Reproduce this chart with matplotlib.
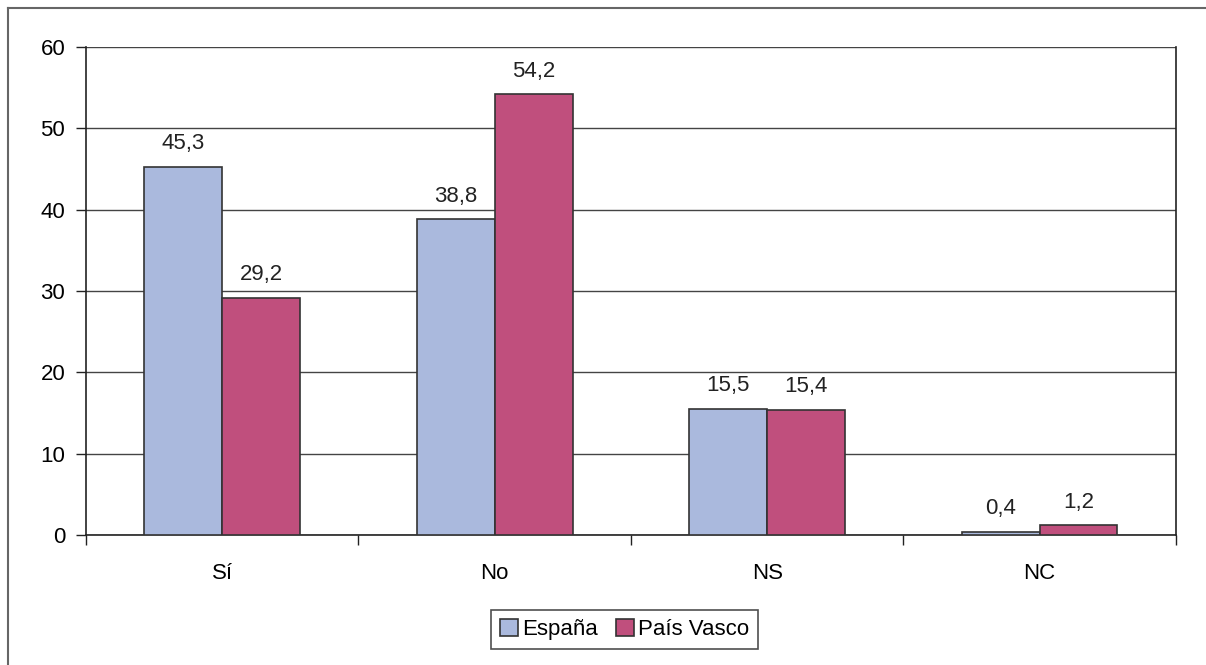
import numpy as np
import matplotlib.pyplot as plt
from matplotlib.lines import Line2D

plt.rcParams['font.family'] = ['Liberation Sans', 'DejaVu Sans']

# Data
categories = ['Sí', 'No', 'NS', 'NC']
espana = [45.3, 38.8, 15.5, 0.4]
pais_vasco = [29.2, 54.2, 15.4, 1.2]
series_names = ['España', 'País Vasco']
colors = ['#AAB9DD', '#C04F7D']

fig = plt.figure(figsize=(12.06, 6.65), dpi=100)
ax = fig.add_axes([0.0713, 0.1955, 0.9037, 0.7338])

x = np.arange(len(categories))
w = 0.2857
b1 = ax.bar(x - w / 2, espana, w, color=colors[0], edgecolor='#333333',
            linewidth=1.2, label=series_names[0], zorder=3)
b2 = ax.bar(x + w / 2, pais_vasco, w, color=colors[1], edgecolor='#333333',
            linewidth=1.2, label=series_names[1], zorder=3)

# value labels with comma decimals
for bars, vals in [(b1, espana), (b2, pais_vasco)]:
    for rect, v in zip(bars, vals):
        ax.annotate(f'{v:.1f}'.replace('.', ','),
                    (rect.get_x() + rect.get_width() / 2, v),
                    xytext=(0, 9), textcoords='offset points',
                    ha='center', va='bottom', fontsize=16, color='#222222')

ax.set_xlim(-0.5, 3.5)
ax.set_ylim(0, 60)
ax.set_yticks(range(0, 61, 10))
ax.yaxis.grid(True, color='#444444', linewidth=1.0, zorder=0)
ax.set_axisbelow(True)

ax.set_xticks(x)
ax.set_xticklabels(categories)
ax.set_xticks(np.arange(-0.5, 4.0, 1.0), minor=True)
ax.tick_params(axis='x', which='major', length=0, pad=20, labelsize=16)
ax.tick_params(axis='x', which='minor', length=7, width=1, color='#222222',
               direction='out')
ax.tick_params(axis='y', length=7, width=1, color='#222222', pad=8,
               labelsize=16)

for side in ['left', 'bottom', 'right', 'top']:
    ax.spines[side].set_color('#222222')
    ax.spines[side].set_linewidth(1.2)
ax.spines['top'].set_visible(False)

leg = fig.legend(loc='center', bbox_to_anchor=(0.518, 0.053), ncol=2,
                 fontsize=16, frameon=True, fancybox=False,
                 edgecolor='#222222', handlelength=0.8, handleheight=0.8,
                 handletextpad=0.2, columnspacing=0.8, borderpad=0.4)
leg.get_frame().set_linewidth(1.2)

# outer chart frame (left and top edges visible)
fig.add_artist(Line2D([8 / 1206, 8 / 1206], [0, 1 - 8 / 665],
                      transform=fig.transFigure, color='#666666', linewidth=1.5))
fig.add_artist(Line2D([8 / 1206, 1.0], [1 - 8 / 665, 1 - 8 / 665],
                      transform=fig.transFigure, color='#666666', linewidth=1.5))

fig.savefig('out.png', dpi=100)
